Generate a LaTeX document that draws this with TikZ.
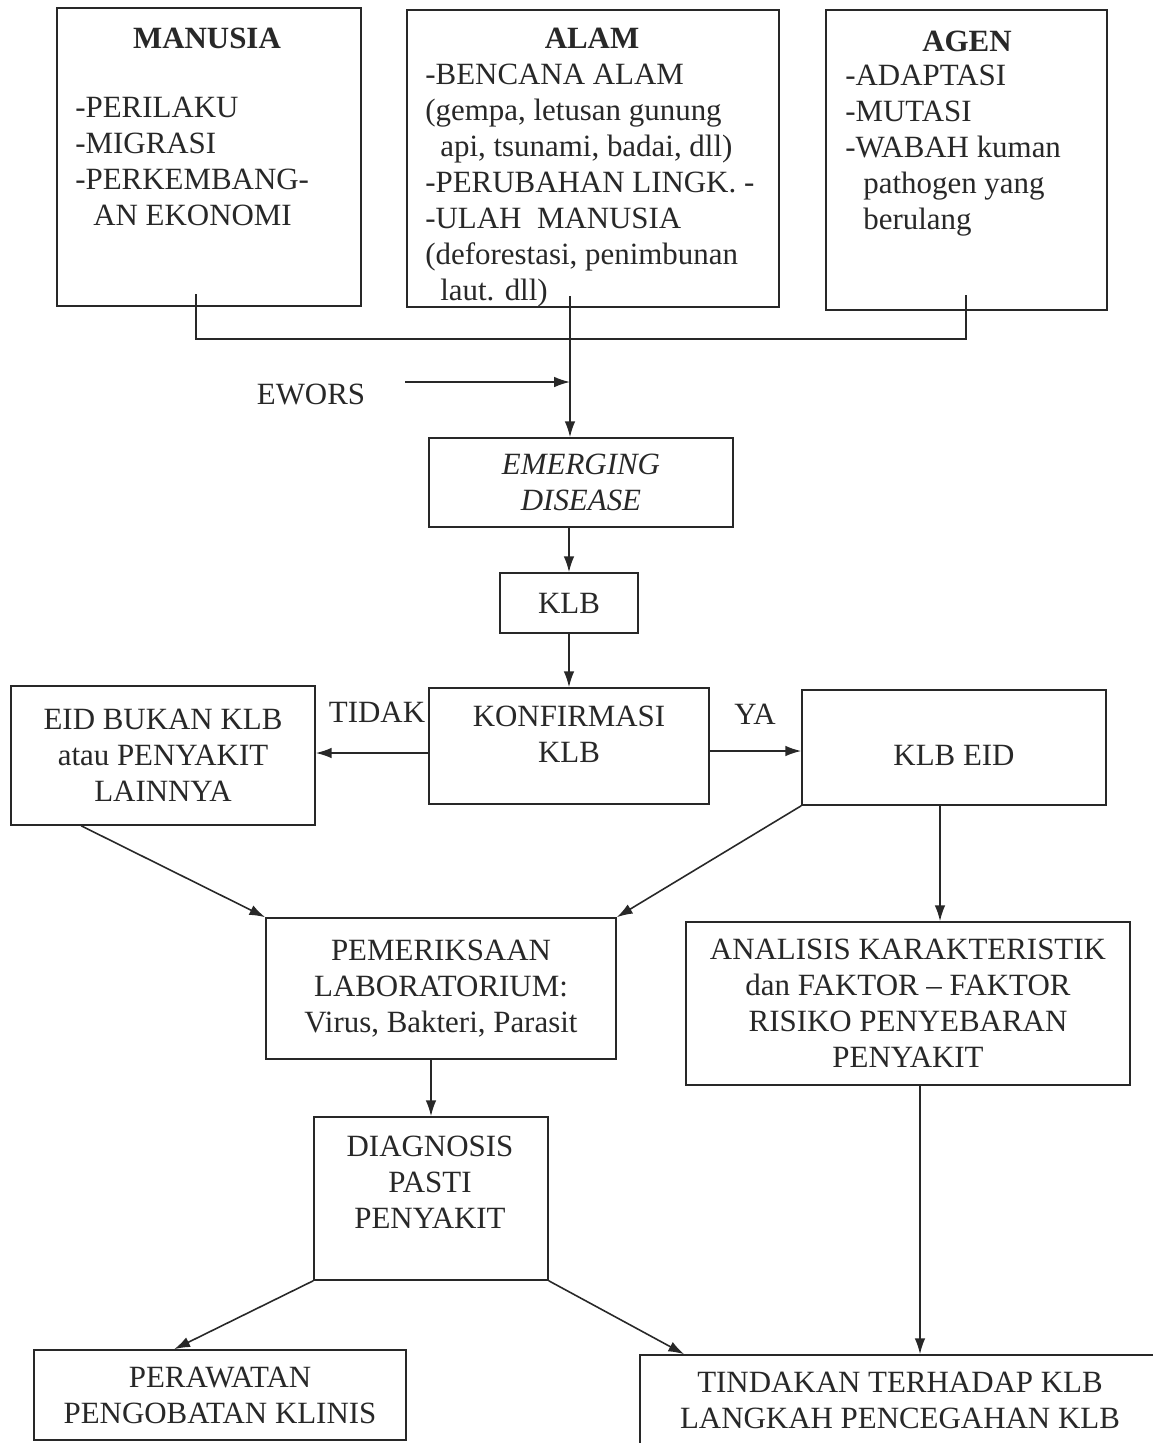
\documentclass[tikz,border=0pt]{standalone}
\usepackage{fontspec}
\setmainfont{Liberation Serif}
\usetikzlibrary{arrows.meta,positioning,calc}
\definecolor{inkgray}{RGB}{40,40,40}
\newcommand{\chartfont}{\fontsize{17.6}{20.5}\selectfont}

\begin{document}
\begin{tikzpicture}[>={Latex[length=9pt,width=6pt]},
  box/.style={draw=inkgray, line width=0.9pt, inner sep=2pt, align=center, text=inkgray, font=\chartfont},
  txt/.style={inner sep=0pt, align=left, text=inkgray, font=\chartfont},
  head/.style={txt, anchor=north, font=\chartfont\bfseries},
  arr/.style={->, draw=inkgray, line width=0.9pt},
  lnk/.style={draw=inkgray, line width=0.9pt}]
\useasboundingbox (0,0) rectangle (23.06,-28.86);
\fill[white] (0,0) rectangle (23.06,-28.86);
% top row: three sources
\node[box, minimum width=6.08cm, minimum height=5.96cm] (manusia) at (4.18,-3.14) {};
\node[box, minimum width=7.44cm, minimum height=5.94cm] (alam) at (11.86,-3.17) {};
\node[box, minimum width=5.62cm, minimum height=6.0cm] (agen) at (19.33,-3.2) {};
\node[head] (manusiaT) at (4.14,-0.56) {MANUSIA};
\node[head] (alamT) at (11.84,-0.56) {ALAM};
\node[head] (agenT) at (19.34,-0.62) {AGEN};
\node[txt, anchor=north west] (manusiaL) at (1.5,-1.94)
  {-PERILAKU\\-MIGRASI\\-PERKEMBANG-\\\hspace*{0.36cm}AN EKONOMI};
\node[txt, anchor=north west] (alamL) at (8.5,-1.28)
  {-BENCANA ALAM\\(gempa, letusan gunung\\\hspace*{0.3cm}api, tsunami, badai, dll)\\-PERUBAHAN LINGK. -\\-ULAH\ \ MANUSIA\\(deforestasi, penimbunan\\\hspace*{0.3cm}laut. dll)};
\node[txt, anchor=north west] (agenL) at (16.9,-1.3)
  {-ADAPTASI\\-MUTASI\\-WABAH kuman\\\hspace*{0.36cm}pathogen yang\\\hspace*{0.36cm}berulang};
% middle column
\node[txt] (ewors) at (6.22,-7.88) {EWORS};
\node[box, minimum width=6.08cm, minimum height=1.78cm, font=\chartfont\itshape] (emerging) at (11.62,-9.65) {EMERGING\\DISEASE};
\node[box, minimum width=2.76cm, minimum height=1.2cm] (klb) at (11.38,-12.06) {KLB};
\node[box, minimum width=5.6cm, minimum height=2.32cm] (konf) at (11.38,-14.92) {};
\node[txt, anchor=north, align=center] (konfT) at (11.38,-14.12) {KONFIRMASI\\KLB};
\node[box, minimum width=6.08cm, minimum height=2.78cm] (bukan) at (3.26,-15.11) {EID BUKAN KLB\\atau PENYAKIT\\LAINNYA};
\node[box, minimum width=6.08cm, minimum height=2.3cm, text height=0.72cm, text depth=0pt] (klbeid) at (19.08,-14.95) {KLB EID};
\node[txt] (tidak) at (7.54,-14.24) {TIDAK};
\node[txt] (ya) at (15.1,-14.28) {YA};
% lower part
\node[box, minimum width=7cm, minimum height=2.82cm] (pem) at (8.82,-19.77) {PEMERIKSAAN\\LABORATORIUM:\\Virus, Bakteri, Parasit};
\node[box, minimum width=8.88cm, minimum height=3.26cm] (analisis) at (18.16,-20.07) {ANALISIS KARAKTERISTIK\\dan FAKTOR -- FAKTOR\\RISIKO PENYEBARAN\\PENYAKIT};
\node[box, minimum width=4.68cm, minimum height=3.26cm] (diag) at (8.62,-23.97) {};
\node[txt, anchor=north, align=center] (diagT) at (8.6,-22.72) {DIAGNOSIS\\PASTI\\PENYAKIT};
\node[box, minimum width=7.44cm, minimum height=1.8cm] (rawat) at (4.4,-27.9) {PERAWATAN\\PENGOBATAN KLINIS};
\node[box, minimum width=10.4cm, minimum height=1.8cm] (tindak) at (18.0,-28.0) {TINDAKAN TERHADAP KLB\\LANGKAH PENCEGAHAN KLB};
% joining line from the top boxes
\coordinate (mstub) at (3.92,-5.88);
\coordinate (astub) at (19.32,-5.9);
\coordinate (lstub) at (11.4,-5.92);
\coordinate (joinY) at (0,-6.78);
\coordinate (ewstart) at (8.1,-7.64);
\draw[lnk] (mstub) -- (mstub |- joinY) -- (astub |- joinY) -- (astub);
\draw[arr] (lstub) -- (lstub |- emerging.north);
\draw[arr] (ewstart) -- (ewstart -| lstub);
% flow
\draw[arr] (emerging.south -| klb) -- (klb.north);
\draw[arr] (klb) -- (konf);
\draw[arr] ($(konf.west)+(0,-0.14)$) -- ($(bukan.east |- konf.west)+(0,-0.14)$);
\draw[arr] ($(konf.east)+(0,-0.1)$) -- ($(klbeid.west |- konf.east)+(0,-0.1)$);
\draw[arr] ($(bukan.south west)+(1.42,0)$) -- (pem.north west);
\draw[arr] (klbeid.south west) -- (pem.north east);
\coordinate (eidDrop) at ($(klbeid.south)+(-0.28,0)$);
\draw[arr] (eidDrop) -- (eidDrop |- analisis.north);
\draw[arr] (pem.south -| diag) -- (diag.north);
\draw[arr] (diag.south west) -- ($(rawat.north west)+(2.82,0)$);
\draw[arr] (diag.south east) -- ($(tindak.north west)+(0.9,0)$);
\coordinate (anDrop) at (18.4,0);
\draw[arr] (analisis.south -| anDrop) -- (tindak.north -| anDrop);
\end{tikzpicture}
\end{document}
